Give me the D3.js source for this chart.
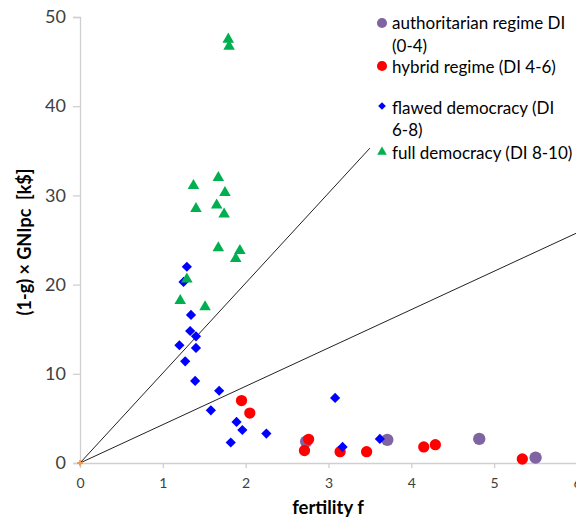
<!DOCTYPE html>
<html>
<head>
<meta charset="utf-8">
<script src="https://cdn.jsdelivr.net/npm/d3@7"></script>
<style>
  html, body { margin: 0; padding: 0; background: #fff; }
  svg { display: block; }
</style>
</head>
<body>
<svg id="chart" width="576" height="523"></svg>
<script>
// fertility f vs (1-g) x GNIpc [k$], grouped by democracy index
const authoritarian = [[2.73, 2.4], [3.71, 2.6], [4.82, 2.7], [5.50, 0.6]];
const hybrid = [[1.95, 7.0], [2.05, 5.6], [2.71, 1.4], [2.76, 2.65], [3.14, 1.27],
                [3.46, 1.27], [4.15, 1.8], [4.29, 2.05], [5.34, 0.45]];
const flawed = [[1.29, 22.0], [1.25, 20.3], [1.34, 16.6], [1.33, 14.8], [1.40, 14.2],
                [1.20, 13.2], [1.40, 12.9], [1.27, 11.4], [1.39, 9.2], [1.68, 8.1],
                [1.58, 5.9], [1.89, 4.6], [1.96, 3.7], [2.25, 3.3], [1.82, 2.3],
                [3.08, 7.3], [3.17, 1.8], [3.62, 2.7]];
const full = [[1.79, 47.5], [1.80, 46.7], [1.67, 32.0], [1.37, 31.1], [1.75, 30.3],
              [1.40, 28.5], [1.65, 28.9], [1.74, 27.9], [1.67, 24.1], [1.93, 23.8],
              [1.88, 22.9], [1.29, 20.6], [1.21, 18.2], [1.51, 17.5]];
// reference lines through the origin: [end f, end value]
const refLines = [[3.5, 35.3], [6, 25.8]];
const xTicks = [0, 1, 2, 3, 4, 5, 6];
const yTicks = [0, 10, 20, 30, 40, 50];
const legendLabels = [
  ["authoritarian regime DI", "(0-4)"],
  ["hybrid regime (DI 4-6)"],
  ["flawed democracy (DI", "6-8)"],
  ["full democracy (DI 8-10)"]
];

const svg = d3.select("#chart");
const x = d3.scaleLinear().domain([0, 6]).range([80, 577]);
const y = d3.scaleLinear().domain([0, 50]).range([463, 17]);
const font = "Lato, 'Open Sans', sans-serif";

// axes
const xAxis = svg.append("g").attr("transform", "translate(0,463)")
  .call(d3.axisBottom(x).tickValues(xTicks).tickSize(5).tickPadding(10).tickFormat(d3.format("d")));
const yAxis = svg.append("g").attr("transform", "translate(80,0)")
  .call(d3.axisLeft(y).tickValues(yTicks).tickSize(7).tickPadding(7).tickFormat(d3.format("d")));
[xAxis, yAxis].forEach(g => {
  g.select(".domain").attr("stroke", "#d0d0d0").attr("stroke-width", 1.3);
  g.selectAll(".tick line").attr("stroke", "#d0d0d0").attr("stroke-width", 1.3);
  g.selectAll(".tick text").attr("fill", "#404040").style("font-family", font);
});
xAxis.selectAll(".tick text").style("font-size", "14px");
yAxis.selectAll(".tick text").style("font-size", "18px");

// reference lines
svg.append("g").selectAll("line").data(refLines).join("line")
  .attr("x1", x(0)).attr("y1", y(0))
  .attr("x2", d => x(d[0])).attr("y2", d => y(d[1]))
  .attr("stroke", "#222").attr("stroke-width", 1);

// small orange cross at the origin
svg.append("path")
  .attr("d", d3.symbol(d3.symbolCross, 18)())
  .attr("transform", `translate(${x(0)},${y(0)})`)
  .attr("fill", "#f79646");

const series = [
  { data: authoritarian, color: "#8064a2", sym: d3.symbolCircle, size: 120 },
  { data: hybrid, color: "#ff0000", sym: d3.symbolCircle, size: 100 },
  { data: flawed, color: "#0000ff", sym: d3.symbolSquare, size: 52, square: true },
  { data: full, color: "#00b050", sym: d3.symbolTriangle, size: 58 }
];

series.forEach(s => {
  svg.append("g").selectAll("path").data(s.data).join("path")
    .attr("d", d3.symbol(s.sym, s.size)())
    .attr("transform", d => `translate(${x(d[0])},${y(d[1])})` + (s.square ? " rotate(45)" : ""))
    .attr("fill", s.color);
});

// legend
const legendRows = [
  { y: 23, yText: [23, 46] },
  { y: 66, yText: [67] },
  { y: 106, yText: [108, 130] },
  { y: 152, yText: [153] }
];
const legend = svg.append("g");
series.forEach((s, i) => {
  const r = legendRows[i];
  legend.append("path")
    .attr("d", s.square ? d3.symbol(d3.symbolSquare, 30)() :
      d3.symbol(s.sym, s.sym === d3.symbolTriangle ? 40 : 80)())
    .attr("transform", `translate(382,${r.y})` + (s.square ? " rotate(45)" : ""))
    .attr("fill", s.color);
  legendLabels[i].forEach((t, j) => {
    legend.append("text")
      .attr("x", 392).attr("y", r.yText[j])
      .attr("dy", "0.35em")
      .style("font-family", font).style("font-size", "17px")
      .attr("fill", "#000")
      .text(t);
  });
});

// axis titles
svg.append("text")
  .attr("x", 328).attr("y", 514)
  .attr("text-anchor", "middle")
  .style("font-family", font).style("font-size", "18.5px").style("font-weight", "bold")
  .text("fertility f");
svg.append("text")
  .attr("transform", "translate(31,242) rotate(-90)")
  .attr("text-anchor", "middle")
  .style("font-family", font).style("font-size", "18px").style("font-weight", "bold")
  .style("white-space", "pre")
  .text("(1-g) × GNIpc  [k$]");
</script>
</body>
</html>
